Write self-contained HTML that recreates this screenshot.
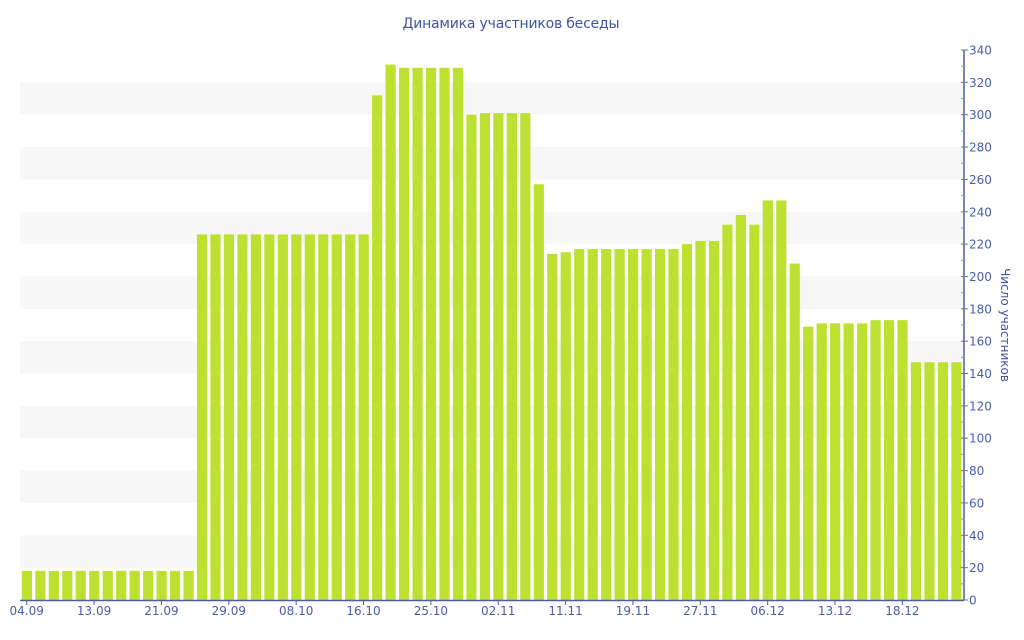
<!DOCTYPE html>
<html><head><meta charset="utf-8"><style>
html,body{margin:0;padding:0;background:#fff;}
svg{display:block;font-family:"DejaVu Sans","Liberation Sans",sans-serif;}
</style></head><body>
<svg id="chart" width="1024" height="640" viewBox="0 0 1024 640">
<text x="511" y="28" text-anchor="middle" font-size="14" fill="#3f55a3" textLength="217">Динамика участников беседы</text>
<g id="bands"></g>
<g id="bars"></g>
<g id="yaxis"></g>
<g id="xaxis"></g>
<text transform="translate(1001,325) rotate(90)" text-anchor="middle" font-size="12" fill="#3f55a3">Число участников</text>
</svg>
<script>
const values = [18,18,18,18,18,18,18,18,18,18,18,18,18,
226,226,226,226,226,226,226,226,226,226,226,226,226,
312,331,329,329,329,329,329,
300,301,301,301,301,
257,214,215,217,217,217,217,217,217,217,217,
220,222,222,232,238,232,247,247,208,169,
171,171,171,171,173,173,173,
147,147,147,147];
const xTickLabels = ["04.09","13.09","21.09","29.09","08.10","16.10","25.10","02.11","11.11","19.11","27.11","06.12","13.12","18.12"];
const xTickEvery = 5;
const yTicks = [0,20,40,60,80,100,120,140,160,180,200,220,240,260,280,300,320,340];
const yMax = 340;

const NS="http://www.w3.org/2000/svg";
const plotLeft=20, plotRight=963, plotTop=50, plotBottom=600;
const nBars=values.length;
const pitch=(plotRight-plotLeft)/nBars;
const xPos=i=>plotLeft+i*pitch;
const yPos=v=>plotBottom-(v/yMax)*(plotBottom-plotTop);
function mk(tag,attrs,parent){const e=document.createElementNS(NS,tag);for(const k in attrs)e.setAttribute(k,attrs[k]);parent.appendChild(e);return e;}
const bandsG=document.getElementById('bands'),barsG=document.getElementById('bars'),yaG=document.getElementById('yaxis'),xaG=document.getElementById('xaxis');
for(let t=20;t<yMax;t+=40){
  const r=mk('rect',{x:plotLeft,y:yPos(t+20),width:plotRight-plotLeft,height:yPos(t)-yPos(t+20),fill:'#f7f7f7'},bandsG);
  
  
}
values.forEach((v,i)=>{
  const r=mk('rect',{x:xPos(i)+1.8,y:yPos(v),width:pitch-3.3,height:plotBottom-yPos(v),fill:'#bde130'},barsG);
  
  
});
mk('line',{x1:964,y1:plotTop,x2:964,y2:plotBottom,stroke:'#4a5ea8','stroke-width':1.5},yaG);
for(let t=10;t<yMax;t+=20){mk('line',{x1:961,y1:yPos(t),x2:964,y2:yPos(t),stroke:'#999'},yaG);}
yTicks.forEach(t=>{
  mk('line',{x1:961,y1:yPos(t),x2:968,y2:yPos(t),stroke:'#777'},yaG);
  const tx=mk('text',{x:969,y:yPos(t)+4.5,'font-size':12,fill:'#4a5ea8'},yaG);
  tx.textContent=t;
  
  
});
mk('line',{x1:plotLeft,y1:plotBottom+0.5,x2:964,y2:plotBottom+0.5,stroke:'#4a5ea8','stroke-width':1.5},xaG);
xTickLabels.forEach((lab,k)=>{
  const cx=xPos(k*xTickEvery)+pitch/2;
  mk('line',{x1:cx,y1:plotBottom,x2:cx,y2:plotBottom+5,stroke:'#4a5ea8'},xaG);
  const tx=mk('text',{x:cx,y:plotBottom+15,'font-size':12,fill:'#4a5ea8','text-anchor':'middle'},xaG);
  tx.textContent=lab;
  
  
});
</script>
</body></html>
